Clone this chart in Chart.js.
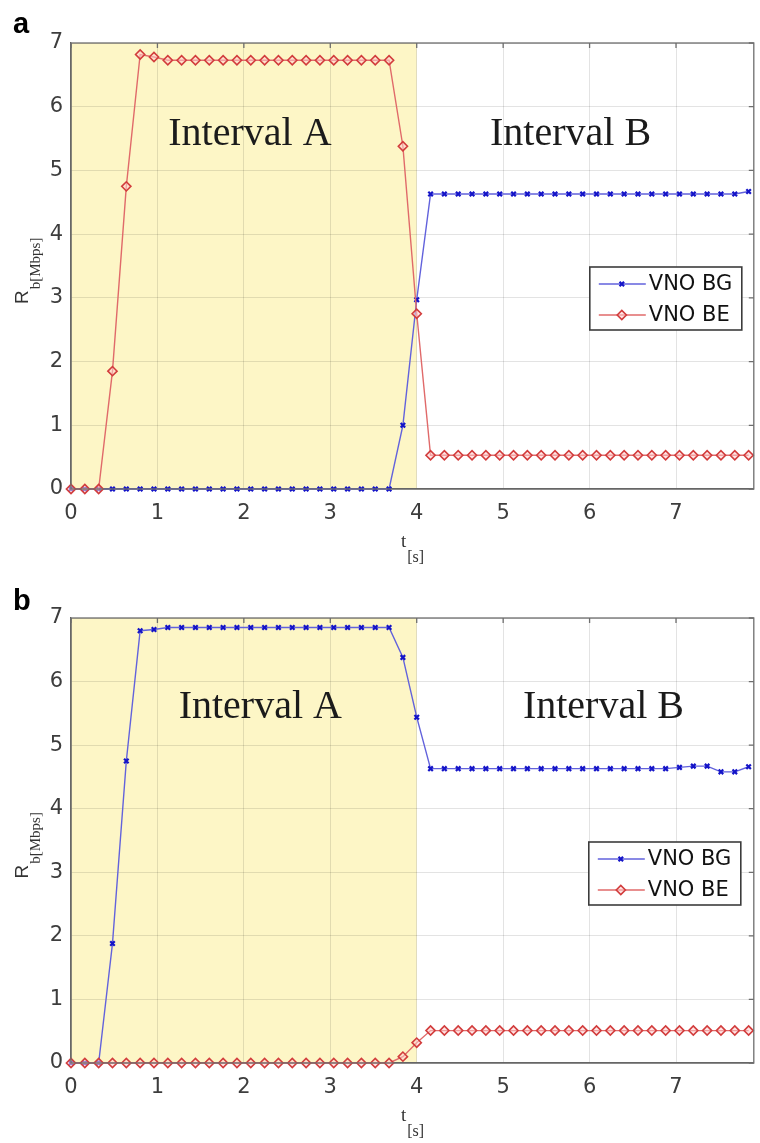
<!DOCTYPE html>
<html>
<head>
<meta charset="utf-8">
<script src="https://cdn.jsdelivr.net/npm/chart.js@4/dist/chart.umd.min.js"></script>
<style>
  body { margin: 0; background: #fff; }
  #wrap { position: relative; width: 760px; height: 1143px; }
  canvas { position: absolute; left: 0; }
  #chart-a { top: 0; }
  #chart-b { top: 571px; }
</style>
</head>
<body>
<div id="wrap">
  <canvas id="chart-a" width="760" height="571"></canvas>
  <canvas id="chart-b" width="760" height="572"></canvas>
</div>
<script>
// Rate of the two VNOs over time, panels a and b

var TIME = [0, 0.16, 0.32, 0.48, 0.64, 0.80, 0.96, 1.12, 1.28, 1.44,
  1.60, 1.76, 1.92, 2.08, 2.24, 2.40, 2.56, 2.72, 2.88, 3.04,
  3.20, 3.36, 3.52, 3.68, 3.84, 4.00, 4.16, 4.32, 4.48, 4.64,
  4.80, 4.96, 5.12, 5.28, 5.44, 5.60, 5.76, 5.92, 6.08, 6.24,
  6.40, 6.56, 6.72, 6.88, 7.04, 7.20, 7.36, 7.52, 7.68, 7.84];

var X_TICKS = [0, 1, 2, 3, 4, 5, 6, 7];
var Y_TICKS = [0, 1, 2, 3, 4, 5, 6, 7];

var SERIES_NAMES = ['VNO BG', 'VNO BE'];
var INTERVAL_LABELS = ['Interval A', 'Interval B'];
var INTERVAL_A_END = 4;

// panel a
var A_BG = [0, 0, 0, 0, 0, 0, 0, 0, 0, 0,
  0, 0, 0, 0, 0, 0, 0, 0, 0, 0,
  0, 0, 0, 0, 1.00, 2.97, 4.63, 4.63, 4.63, 4.63,
  4.63, 4.63, 4.63, 4.63, 4.63, 4.63, 4.63, 4.63, 4.63, 4.63,
  4.63, 4.63, 4.63, 4.63, 4.63, 4.63, 4.63, 4.63, 4.63, 4.67];
var A_BE = [0, 0, 0, 1.85, 4.75, 6.82, 6.78, 6.73, 6.73, 6.73,
  6.73, 6.73, 6.73, 6.73, 6.73, 6.73, 6.73, 6.73, 6.73, 6.73,
  6.73, 6.73, 6.73, 6.73, 5.38, 2.75, 0.53, 0.53, 0.53, 0.53,
  0.53, 0.53, 0.53, 0.53, 0.53, 0.53, 0.53, 0.53, 0.53, 0.53,
  0.53, 0.53, 0.53, 0.53, 0.53, 0.53, 0.53, 0.53, 0.53, 0.53];

// panel b
var B_BG = [0, 0, 0, 1.88, 4.75, 6.80, 6.82, 6.85, 6.85, 6.85,
  6.85, 6.85, 6.85, 6.85, 6.85, 6.85, 6.85, 6.85, 6.85, 6.85,
  6.85, 6.85, 6.85, 6.85, 6.38, 5.44, 4.63, 4.63, 4.63, 4.63,
  4.63, 4.63, 4.63, 4.63, 4.63, 4.63, 4.63, 4.63, 4.63, 4.63,
  4.63, 4.63, 4.63, 4.63, 4.65, 4.67, 4.67, 4.58, 4.58, 4.66];
var B_BE = [0, 0, 0, 0, 0, 0, 0, 0, 0, 0,
  0, 0, 0, 0, 0, 0, 0, 0, 0, 0,
  0, 0, 0, 0, 0.10, 0.32, 0.51, 0.51, 0.51, 0.51,
  0.51, 0.51, 0.51, 0.51, 0.51, 0.51, 0.51, 0.51, 0.51, 0.51,
  0.51, 0.51, 0.51, 0.51, 0.51, 0.51, 0.51, 0.51, 0.51, 0.51];

var BG_STYLE = {
  borderColor: '#6262dc', pointStyle: 'crossRot', pointRadius: 3.2,
  pointBorderColor: '#1414c8', pointBackgroundColor: '#1414c8', pointBorderWidth: 2.2
};
var BE_STYLE = {
  borderColor: '#e06a6a', pointStyle: 'rectRot', pointRadius: 4.6,
  pointBorderColor: '#d23c3c', pointBackgroundColor: 'rgba(255,205,205,0.55)', pointBorderWidth: 1.6
};

function pairs(ys) {
  return ys.map(function(y, i) { return { x: TIME[i], y: y }; });
}

function makeDataset(label, ys, style, order) {
  return {
    label: label,
    data: pairs(ys),
    borderColor: style.borderColor,
    borderWidth: 1.4,
    pointStyle: style.pointStyle,
    pointRadius: style.pointRadius,
    pointBorderColor: style.pointBorderColor,
    pointBackgroundColor: style.pointBackgroundColor,
    pointBorderWidth: style.pointBorderWidth,
    tension: 0,
    fill: false,
    clip: false,
    order: order
  };
}

// write "main" followed by a lowered, smaller "sub"
function drawSubText(ctx, main, sub, mainFont, subFont, drop) {
  ctx.font = mainFont;
  ctx.fillText(main, 0, 0);
  var w = ctx.measureText(main).width;
  ctx.font = subFont;
  ctx.fillText(sub, w + 1, drop);
}

var figurePlugin = {
  id: 'figure',
  beforeDraw: function(chart) {
    var ctx = chart.ctx, area = chart.chartArea, xs = chart.scales.x;
    ctx.save();
    ctx.fillStyle = '#ffffff';
    ctx.fillRect(0, 0, chart.width, chart.height);
    ctx.fillStyle = '#fdf6c6';
    var xEnd = xs.getPixelForValue(INTERVAL_A_END);
    ctx.fillRect(area.left, area.top, xEnd - area.left, area.bottom - area.top);
    ctx.restore();
  },
  afterDatasetsDraw: function(chart, args, opts) {
    var ctx = chart.ctx, area = chart.chartArea;
    var xs = chart.scales.x, ys = chart.scales.y;
    ctx.save();

    // box and inner ticks on top / right
    ctx.strokeStyle = '#6e6e6e';
    ctx.lineWidth = 1.3;
    ctx.strokeRect(area.left, area.top, area.right - area.left, area.bottom - area.top);
    ctx.beginPath();
    X_TICKS.forEach(function(v) {
      var px = xs.getPixelForValue(v);
      ctx.moveTo(px, area.top); ctx.lineTo(px, area.top + 5);
    });
    Y_TICKS.forEach(function(v) {
      var py = ys.getPixelForValue(v);
      ctx.moveTo(area.right, py); ctx.lineTo(area.right - 5, py);
    });
    ctx.stroke();

    // interval labels
    ctx.fillStyle = '#1b1b1b';
    ctx.font = '40px "Liberation Serif", "Times New Roman", serif';
    ctx.textAlign = 'center';
    ctx.textBaseline = 'alphabetic';
    opts.intervals.forEach(function(it, i) {
      ctx.fillText(INTERVAL_LABELS[i], xs.getPixelForValue(it[0]), ys.getPixelForValue(it[1]));
    });

    // legend box
    var L = area.right - opts.legendRight - 152, T = opts.legendTop;
    ctx.fillStyle = '#ffffff';
    ctx.fillRect(L, T, 152, 63);
    ctx.strokeStyle = '#3c3c3c';
    ctx.lineWidth = 1.6;
    ctx.strokeRect(L, T, 152, 63);
    ctx.textAlign = 'left';
    ctx.textBaseline = 'middle';
    ctx.font = '21px "DejaVu Sans", sans-serif';
    chart.data.datasets.forEach(function(ds, i) {
      var cy = T + 17 + i * 31;
      ctx.strokeStyle = ds.borderColor;
      ctx.lineWidth = 1.4;
      ctx.beginPath();
      ctx.moveTo(L + 9, cy); ctx.lineTo(L + 56, cy);
      ctx.stroke();
      ctx.strokeStyle = ds.pointBorderColor;
      ctx.fillStyle = ds.pointBackgroundColor;
      ctx.lineWidth = ds.pointBorderWidth;
      Chart.helpers.drawPoint(ctx, {
        pointStyle: ds.pointStyle, radius: ds.pointRadius, rotation: 0, borderWidth: ds.pointBorderWidth
      }, L + 32, cy);
      ctx.fillStyle = '#111111';
      ctx.fillText(ds.label, L + 59, cy + 1);
    });

    // axis titles
    ctx.fillStyle = '#333333';
    ctx.textAlign = 'left';
    ctx.textBaseline = 'alphabetic';
    var midY = (area.top + area.bottom) / 2;
    ctx.save();
    ctx.translate(28, midY + 38);
    ctx.rotate(-Math.PI / 2);
    drawSubText(ctx, 'R', 'b[Mbps]', '19px "Liberation Sans", Arial, sans-serif',
      '15px "Liberation Serif", "Times New Roman", serif', 12);
    ctx.restore();
    ctx.save();
    ctx.translate(401, area.bottom + 58);
    drawSubText(ctx, 't', '[s]', '19px "Liberation Serif", "Times New Roman", serif',
      '16px "Liberation Serif", "Times New Roman", serif', 15);
    ctx.restore();

    // panel letter
    ctx.fillStyle = '#000000';
    ctx.font = 'bold 29px "Liberation Sans", Arial, sans-serif';
    ctx.fillText(opts.letter, 13, opts.letterBase);

    ctx.restore();
  }
};

function buildChart(canvasId, bg, be, cfg) {
  var canvas = document.getElementById(canvasId);
  return new Chart(canvas, {
    type: 'line',
    data: {
      datasets: [
        makeDataset(SERIES_NAMES[0], bg, BG_STYLE, 1),
        makeDataset(SERIES_NAMES[1], be, BE_STYLE, 0)
      ]
    },
    options: {
      responsive: false,
      animation: false,
      events: [],
      layout: { padding: { top: cfg.padTop, right: cfg.padRight, left: 0, bottom: 0 } },
      plugins: {
        legend: { display: false },
        tooltip: { enabled: false },
        figure: cfg
      },
      scales: {
        x: {
          type: 'linear',
          min: 0,
          max: 7.9,
          afterBuildTicks: function(scale) {
            scale.ticks = X_TICKS.map(function(v) { return { value: v }; });
          },
          afterFit: function(scale) { scale.height = cfg.xAxisHeight; },
          ticks: {
            color: '#3d3d3d',
            padding: 12,
            maxRotation: 0,
            font: { family: '"DejaVu Sans", sans-serif', size: 21 }
          },
          grid: { color: 'rgba(0,0,0,0.11)', lineWidth: 1, drawTicks: false },
          border: { display: true, color: '#5a5a5a', width: 1.3 }
        },
        y: {
          type: 'linear',
          min: 0,
          max: 7,
          afterBuildTicks: function(scale) {
            scale.ticks = Y_TICKS.map(function(v) { return { value: v }; });
          },
          afterFit: function(scale) { scale.width = 71; },
          ticks: {
            color: '#3d3d3d',
            padding: 8,
            font: { family: '"DejaVu Sans", sans-serif', size: 21 }
          },
          grid: { color: 'rgba(0,0,0,0.11)', lineWidth: 1, drawTicks: false },
          border: { display: true, color: '#5a5a5a', width: 1.3 }
        }
      }
    },
    plugins: [figurePlugin]
  });
}

buildChart('chart-a', A_BG, A_BE, {
  padTop: 43, padRight: 5, xAxisHeight: 82,
  intervals: [[2.07, 5.4], [5.78, 5.4]],
  legendRight: 12, legendTop: 267,
  letter: 'a', letterBase: 33
});

buildChart('chart-b', B_BG, B_BE, {
  padTop: 47, padRight: 2, xAxisHeight: 80,
  intervals: [[2.19, 5.43], [6.16, 5.43]],
  legendRight: 13, legendTop: 271,
  letter: 'b', letterBase: 39
});
</script>
</body>
</html>
